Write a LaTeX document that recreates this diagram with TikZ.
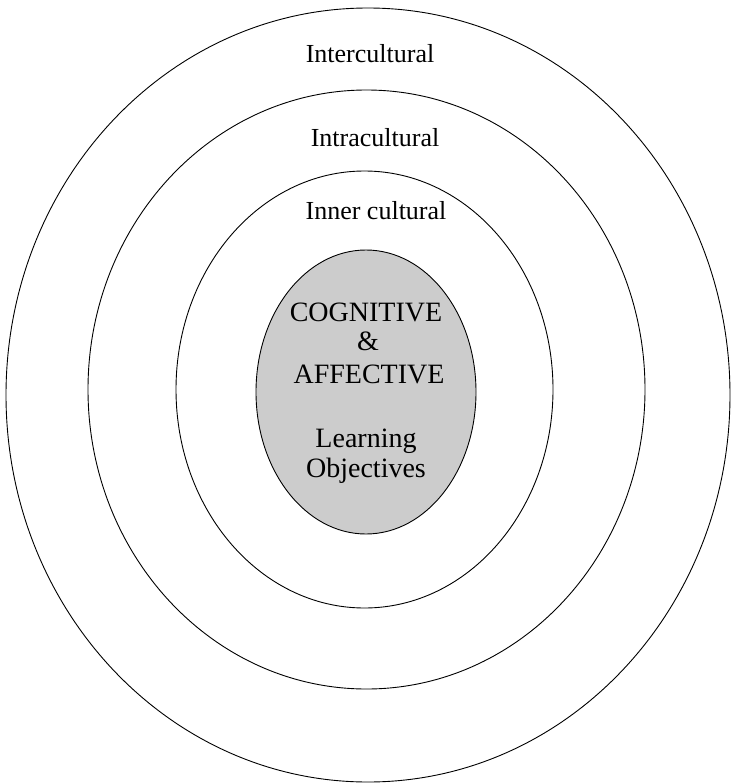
\documentclass[tikz,border=0pt]{standalone}
\usepackage{fontspec}
\setmainfont{Liberation Serif}
\begin{document}
\begin{tikzpicture}[x=1pt,y=-1pt,
  ring/.style={draw=black,line width=0.9pt},
  core/.style={draw=black,line width=0.9pt,fill=black!20},
  lab/.style={anchor=base,inner sep=0pt,font=\fontsize{26}{30}\selectfont},
  corelab/.style={anchor=base,inner sep=0pt,font=\fontsize{28}{32}\selectfont}]
\useasboundingbox (0,0) rectangle (733,784);
\draw[ring] (368,395) ellipse [x radius=362pt, y radius=387pt];
\draw[ring] (366.5,389.5) ellipse [x radius=278.5pt, y radius=299.5pt];
\draw[ring] (364.5,389.5) ellipse [x radius=188.5pt, y radius=218.5pt];
\draw[core] (366,392) ellipse [x radius=110pt, y radius=142pt];
\node[lab] (inter) at (370,63) {Intercultural};
\node[lab] (intra) at (375,146) {Intracultural};
\node[lab] (inner) at (376,219) {Inner cultural};
\node[corelab] (cog) at (366,321) {COGNITIVE};
\node[corelab] (amp) at (368,350) {\&};
\node[corelab] (aff) at (369,383) {AFFECTIVE};
\node[corelab] (learn) at (366,447) {Learning};
\node[corelab] (obj) at (366,477) {Objectives};
\end{tikzpicture}
\end{document}
